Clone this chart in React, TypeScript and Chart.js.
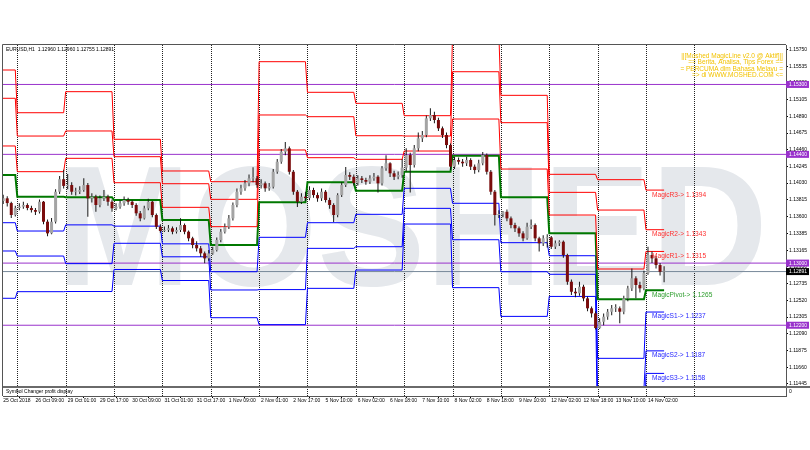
import React, { useEffect, useRef } from "react";
import { Chart, registerables } from "chart.js";

Chart.register(...registerables);

const FONT = "'Liberation Sans', Arial, sans-serif";

// ---------- time axis ----------
const timeLabels = ["25 Oct 2018", "26 Oct 09:00", "29 Oct 01:00", "29 Oct 17:00", "30 Oct 09:00", "31 Oct 01:00", "31 Oct 17:00", "1 Nov 09:00", "2 Nov 01:00", "2 Nov 17:00", "5 Nov 10:00", "6 Nov 02:00", "6 Nov 18:00", "7 Nov 10:00", "8 Nov 02:00", "8 Nov 18:00", "9 Nov 10:00", "12 Nov 02:00", "12 Nov 18:00", "13 Nov 10:00", "14 Nov 02:00"];
const timeLabelHours = [-7, 9, 25, 41, 57, 73, 89, 105, 121, 137, 153, 169, 185, 201, 217, 233, 249, 265, 281, 297, 313];
const daySeparatorHours = [0, 24, 48, 72, 96, 120, 144, 168, 192, 216, 240, 264, 288, 312, 336];

// ---------- price axis ----------
const priceTicks = [1.1575, 1.15535, 1.1532, 1.15105, 1.1489, 1.14675, 1.1446, 1.14245, 1.1403, 1.13815, 1.136, 1.13385, 1.13165, 1.1295, 1.12735, 1.1252, 1.12305, 1.1209, 1.11875, 1.1166, 1.11445];
const levelLines = [1.153, 1.144, 1.13, 1.122];
const bidPrice = 1.12891;

const symbolTitle = "EURUSD,H1";
const currentBarOHLC = [1.1296, 1.1296, 1.12755, 1.12891];
const infoLines = ["||[Moshed MagicLine v2.0 @ Aktif]||", "== Berita, Analisa, Tips Forex ==", "= PERCUMA dlm Bahasa Melayu =", "=> di WWW.MOSHED.COM <="];
const watermarkText = "MOSHED";
const subWindowTitle = "Symbol Changer profit display";

// ---------- candles (2-hour bars, first bar at hour -7) ----------
const candleStartHour = -7;
const candleStepHours = 2;
const opens = [1.13800,1.13834,1.13773,1.13619,1.13709,1.13726,1.13748,1.13709,1.13683,1.13661,
 1.13790,1.13533,1.13383,1.13533,1.13919,1.14080,1.13994,1.14005,1.13919,1.13919,
 1.13941,1.14005,1.13834,1.13855,1.13748,1.13834,1.13855,1.13790,1.13705,1.13726,
 1.13770,1.13812,1.13790,1.13748,1.13641,1.13576,1.13705,1.13790,1.13619,1.13468,
 1.13414,1.13426,1.13448,1.13404,1.13426,1.13490,1.13404,1.13319,1.13233,1.13190,
 1.13126,1.13061,1.13125,1.13168,1.13297,1.13404,1.13468,1.13576,1.13748,1.13919,
 1.13963,1.14027,1.14091,1.14091,1.14005,1.14027,1.13963,1.13983,1.14176,1.14305,
 1.14434,1.14478,1.14176,1.13919,1.13790,1.13855,1.13837,1.13941,1.13876,1.13834,
 1.13919,1.13812,1.13748,1.13619,1.13876,1.14005,1.14134,1.14112,1.14032,1.14091,
 1.14070,1.14048,1.14091,1.14112,1.14027,1.14220,1.14285,1.14156,1.14112,1.14134,
 1.14229,1.14391,1.14263,1.14478,1.14606,1.14649,1.14864,1.14906,1.14842,1.14735,
 1.14649,1.14520,1.14242,1.14327,1.14305,1.14285,1.14327,1.14241,1.14198,1.14285,
 1.14391,1.14176,1.13919,1.13619,1.13627,1.13661,1.13576,1.13490,1.13448,1.13383,
 1.13319,1.13468,1.13490,1.13319,1.13255,1.13319,1.13331,1.13211,1.13255,1.13275,
 1.13104,1.12760,1.12631,1.12611,1.12696,1.12546,1.12418,1.12353,1.12164,1.12245,
 1.12310,1.12374,1.12418,1.12418,1.12374,1.12546,1.12675,1.12804,1.12718,1.12675,
 1.12870,1.13104,1.13061,1.12975,1.12889];
const highs = [1.13880,1.13860,1.13790,1.13740,1.13770,1.13790,1.13770,1.13740,1.13710,1.13820,
 1.13800,1.13560,1.13580,1.13950,1.14120,1.14202,1.14148,1.14040,1.13970,1.13990,
 1.14091,1.14030,1.13900,1.13880,1.13870,1.13941,1.13880,1.13820,1.13770,1.13810,
 1.13859,1.13840,1.13810,1.13770,1.13670,1.13740,1.13830,1.13800,1.13640,1.13500,
 1.13470,1.13490,1.13470,1.13460,1.13576,1.13510,1.13420,1.13340,1.13280,1.13220,
 1.13150,1.13170,1.13210,1.13330,1.13440,1.13510,1.13620,1.13780,1.13960,1.14010,
 1.14070,1.14140,1.14233,1.14120,1.14080,1.14050,1.14030,1.14210,1.14340,1.14470,
 1.14560,1.14500,1.14200,1.13940,1.13900,1.13920,1.13990,1.13970,1.13910,1.13960,
 1.13940,1.13840,1.13770,1.13900,1.14040,1.14236,1.14170,1.14140,1.14130,1.14120,
 1.14100,1.14130,1.14160,1.14130,1.14250,1.14390,1.14300,1.14190,1.14180,1.14340,
 1.14480,1.14420,1.14520,1.14680,1.14700,1.14900,1.14995,1.14950,1.14870,1.14760,
 1.14680,1.14540,1.14370,1.14360,1.14340,1.14370,1.14350,1.14270,1.14330,1.14432,
 1.14410,1.14200,1.13940,1.13680,1.13672,1.13690,1.13600,1.13520,1.13470,1.13410,
 1.13520,1.13560,1.13510,1.13340,1.13360,1.13370,1.13350,1.13290,1.13293,1.13290,
 1.13120,1.12790,1.12680,1.12760,1.12720,1.12570,1.12440,1.12380,1.12290,1.12350,
 1.12410,1.12460,1.12470,1.12440,1.12580,1.12710,1.12930,1.12830,1.12760,1.12900,
 1.13211,1.13150,1.13090,1.13000,1.12960];
const lows = [1.13760,1.13730,1.13580,1.13600,1.13680,1.13700,1.13680,1.13650,1.13620,1.13640,
 1.13500,1.13345,1.13370,1.13510,1.13890,1.13960,1.13950,1.13880,1.13870,1.13890,
 1.13920,1.13597,1.13780,1.13661,1.13720,1.13800,1.13740,1.13660,1.13680,1.13700,
 1.13740,1.13750,1.13710,1.13610,1.13540,1.13560,1.13680,1.13590,1.13440,1.13391,
 1.13400,1.13400,1.13370,1.13380,1.13400,1.13370,1.13280,1.13190,1.13150,1.13080,
 1.12997,1.13030,1.13109,1.13150,1.13270,1.13380,1.13440,1.13550,1.13720,1.13880,
 1.13930,1.13990,1.14040,1.13970,1.13960,1.13920,1.13930,1.13960,1.14150,1.14280,
 1.14390,1.14140,1.13880,1.13723,1.13760,1.13800,1.13810,1.13840,1.13790,1.13800,
 1.13780,1.13700,1.13528,1.13590,1.13850,1.13980,1.14070,1.14000,1.14000,1.14030,
 1.14010,1.14020,1.14060,1.13910,1.14000,1.14190,1.14110,1.14070,1.14080,1.14100,
 1.14180,1.13910,1.14230,1.14440,1.14560,1.14620,1.14830,1.14800,1.14700,1.14610,
 1.14480,1.14200,1.14210,1.14270,1.14240,1.14250,1.14200,1.14150,1.14170,1.14260,
 1.14140,1.13880,1.13483,1.13580,1.13590,1.13540,1.13450,1.13400,1.13340,1.13280,
 1.13300,1.13440,1.13280,1.13148,1.13220,1.13200,1.13180,1.13180,1.13220,1.13070,
 1.12720,1.12590,1.12560,1.12580,1.12510,1.12380,1.12300,1.12144,1.12150,1.12200,
 1.12270,1.12330,1.12370,1.12226,1.12340,1.12510,1.12640,1.12546,1.12620,1.12650,
 1.12850,1.13000,1.12930,1.12840,1.12755];
const closes = [1.13834,1.13773,1.13619,1.13709,1.13726,1.13748,1.13709,1.13683,1.13661,1.13790,
 1.13533,1.13383,1.13533,1.13919,1.14080,1.13994,1.14005,1.13919,1.13919,1.13941,
 1.14005,1.13834,1.13855,1.13748,1.13834,1.13855,1.13790,1.13705,1.13726,1.13770,
 1.13812,1.13790,1.13748,1.13641,1.13576,1.13705,1.13790,1.13619,1.13468,1.13414,
 1.13426,1.13448,1.13404,1.13426,1.13490,1.13404,1.13319,1.13233,1.13190,1.13126,
 1.13061,1.13125,1.13168,1.13297,1.13404,1.13468,1.13576,1.13748,1.13919,1.13963,
 1.14027,1.14091,1.14091,1.14005,1.14027,1.13963,1.13983,1.14176,1.14305,1.14434,
 1.14478,1.14176,1.13919,1.13790,1.13855,1.13837,1.13941,1.13876,1.13834,1.13919,
 1.13812,1.13748,1.13619,1.13876,1.14005,1.14134,1.14112,1.14032,1.14091,1.14070,
 1.14048,1.14091,1.14112,1.14027,1.14220,1.14285,1.14156,1.14112,1.14134,1.14229,
 1.14391,1.14263,1.14478,1.14606,1.14649,1.14864,1.14906,1.14842,1.14735,1.14649,
 1.14520,1.14242,1.14327,1.14305,1.14285,1.14327,1.14241,1.14198,1.14285,1.14391,
 1.14176,1.13919,1.13619,1.13627,1.13661,1.13576,1.13490,1.13448,1.13383,1.13319,
 1.13468,1.13490,1.13319,1.13255,1.13319,1.13331,1.13211,1.13255,1.13275,1.13104,
 1.12760,1.12631,1.12611,1.12696,1.12546,1.12418,1.12353,1.12164,1.12245,1.12310,
 1.12374,1.12418,1.12418,1.12374,1.12546,1.12675,1.12804,1.12718,1.12675,1.12870,
 1.13104,1.13061,1.12975,1.12889,1.12891];

// ---------- Magic pivot levels per day (25 Oct .. 14 Nov) ----------
const pivotDayStartHours = [-24, 0, 24, 48, 72, 96, 120, 144, 168, 192, 216, 240, 264, 288, 312];
const lastBarHour = 321;
const magicR3 = [1.15486, 1.14936, 1.15207, 1.14594, 1.14186, 1.14048, 1.15593, 1.15199, 1.15057, 1.14898, 1.15941, 1.15160, 1.14143, 1.14074, 1.1394];
const magicR2 = [1.15122, 1.14636, 1.14701, 1.14370, 1.14022, 1.13821, 1.14907, 1.14885, 1.14640, 1.14636, 1.15464, 1.14808, 1.13911, 1.13683, 1.1343];
const magicR1 = [1.14508, 1.14177, 1.14349, 1.14035, 1.13718, 1.13469, 1.14456, 1.14357, 1.14336, 1.14443, 1.14855, 1.14211, 1.13619, 1.12924, 1.1315];
const magicPivot = [1.14134, 1.13855, 1.13847, 1.13812, 1.13555, 1.13233, 1.13783, 1.14040, 1.13932, 1.14177, 1.14383, 1.13847, 1.13383, 1.12534, 1.1265];
const magicS1 = [1.13520, 1.13413, 1.13492, 1.13476, 1.13248, 1.12889, 1.13332, 1.13520, 1.13628, 1.13963, 1.13770, 1.13263, 1.13095, 1.11774, 1.1237];
const magicS2 = [1.13156, 1.13091, 1.12993, 1.13255, 1.13081, 1.12654, 1.12659, 1.13190, 1.13211, 1.13705, 1.13301, 1.12889, 1.12856, 1.11384, 1.1187];
const magicS3 = [1.12547, 1.12632, 1.12634, 1.12918, 1.12776, 1.12297, 1.12208, 1.12675, 1.12911, 1.13503, 1.12684, 1.12314, 1.12571, 1.10624, 1.1158];
const labelHour = 315;

// ---------- view ----------
const X_MIN = -7.1;
const X_MAX = 381.5;
const Y_MIN = 1.11289;
const Y_MAX = 1.15808;
const SUB_H = 10;

const RED = "#ff0000";
const BLUE = "#0000ff";
const GREEN = "#007800";
const PURPLE = "#9932cc";

export default function App() {
  const ref = useRef<HTMLCanvasElement>(null);

  useEffect(() => {
    document.body.style.margin = "0";
    const canvas = ref.current;
    if (!canvas) return;

    const hourOf = (i: number) => candleStartHour + candleStepHours * i;
    const wickData = highs.map((h, i) => ({ x: hourOf(i), y: [lows[i], h] }));
    const bullData: any[] = [];
    const bearData: any[] = [];
    closes.forEach((c, i) => {
      const o = opens[i];
      (c >= o ? bullData : bearData).push({ x: hourOf(i), y: [Math.min(o, c), Math.max(o, c)] });
    });

    const pivotPoints = (levels: number[]) => {
      const pts: { x: number; y: number }[] = [];
      levels.forEach((v, j) => {
        const start = pivotDayStartHours[j];
        const end = j === levels.length - 1 ? lastBarHour : pivotDayStartHours[j + 1] - 1;
        pts.push({ x: start, y: v }, { x: end, y: v });
      });
      return pts;
    };

    const pivotSeries = [
      { name: "MagicR3", values: magicR3, color: RED, width: 1, text: "#ff3030" },
      { name: "MagicR2", values: magicR2, color: RED, width: 1, text: "#ff3030" },
      { name: "MagicR1", values: magicR1, color: RED, width: 1, text: "#ff3030" },
      { name: "MagicPivot", values: magicPivot, color: GREEN, width: 2, text: "#2e9e2e" },
      { name: "MagicS1", values: magicS1, color: BLUE, width: 1, text: "#2828ff" },
      { name: "MagicS2", values: magicS2, color: BLUE, width: 1, text: "#2828ff" },
      { name: "MagicS3", values: magicS3, color: BLUE, width: 1, text: "#2828ff" },
    ];

    const hLine = (v: number) => [{ x: X_MIN - 5, y: v }, { x: X_MAX + 5, y: v }];

    const datasets: any[] = [];
    levelLines.forEach((v) =>
      datasets.push({ type: "line", data: hLine(v), borderColor: PURPLE, borderWidth: 1, pointRadius: 0, order: 5 })
    );
    datasets.push({ type: "line", data: hLine(bidPrice), borderColor: "#778899", borderWidth: 1, pointRadius: 0, order: 5 });
    pivotSeries.forEach((s) =>
      datasets.push({
        type: "line",
        data: pivotPoints(s.values),
        borderColor: s.color,
        borderWidth: s.width,
        pointRadius: 0,
        tension: 0,
        order: 3,
        clip: { left: 0, top: 0, right: 0, bottom: -SUB_H },
      })
    );
    datasets.push({ type: "bar", data: wickData, backgroundColor: "#151515", barThickness: 1, grouped: false, borderWidth: 0, inflateAmount: 0, order: 1 });
    datasets.push({ type: "bar", data: bullData, backgroundColor: "#a4a4a4", barThickness: 3, grouped: false, borderWidth: 0, inflateAmount: 0, minBarLength: 1, order: 0 });
    datasets.push({ type: "bar", data: bearData, backgroundColor: "#7a0c0c", barThickness: 3, grouped: false, borderWidth: 0, inflateAmount: 0, minBarLength: 1, order: 0 });

    const backgroundPlugin = {
      id: "bg",
      beforeDraw(chart: any) {
        const { ctx, width, height } = chart;
        ctx.save();
        ctx.fillStyle = "#ffffff";
        ctx.fillRect(0, 0, width, height);
        ctx.restore();
      },
    };

    const underlayPlugin = {
      id: "underlay",
      beforeDatasetsDraw(chart: any) {
        const { ctx, chartArea } = chart;
        const xs = chart.scales.x;
        const mainBottom = chartArea.bottom - SUB_H;
        ctx.save();
        ctx.beginPath();
        ctx.rect(chartArea.left, chartArea.top, chartArea.right - chartArea.left, mainBottom - chartArea.top);
        ctx.clip();
        ctx.fillStyle = "#e5e8ec";
        ctx.font = `bold 170px ${FONT}`;
        ctx.textAlign = "center";
        ctx.textBaseline = "alphabetic";
        ctx.fillText(watermarkText, 412, 285, 712);
        ctx.restore();

        ctx.save();
        ctx.strokeStyle = "#222";
        ctx.lineWidth = 1;
        ctx.setLineDash([1, 1]);
        daySeparatorHours.forEach((h) => {
          const x = Math.round(xs.getPixelForValue(h)) + 0.5;
          ctx.beginPath();
          ctx.moveTo(x, chartArea.top);
          ctx.lineTo(x, chartArea.bottom);
          ctx.stroke();
        });
        ctx.restore();
      },
    };

    const overlayPlugin = {
      id: "overlay",
      afterDatasetsDraw(chart: any) {
        const { ctx, chartArea } = chart;
        const xs = chart.scales.x;
        const ys = chart.scales.y;
        const mainBottom = chartArea.bottom - SUB_H;
        ctx.save();
        // magic labels
        ctx.font = `6.6px ${FONT}`;
        ctx.textAlign = "left";
        ctx.textBaseline = "middle";
        pivotSeries.forEach((s) => {
          const v = s.values[s.values.length - 1];
          ctx.fillStyle = s.text;
          ctx.fillText(`${s.name}-> ${v.toFixed(4)}`, xs.getPixelForValue(labelHour), ys.getPixelForValue(v) + 4.6);
        });
        // info lines
        ctx.font = `6.5px ${FONT}`;
        ctx.textAlign = "right";
        ctx.fillStyle = "#f2c200";
        infoLines.forEach((t, i) => ctx.fillText(t, chartArea.right - 3, 56.5 + i * 6.2));
        // title
        ctx.font = `5px ${FONT}`;
        ctx.textAlign = "left";
        ctx.fillStyle = "#000";
        ctx.fillText(`${symbolTitle}  ${currentBarOHLC.map((v) => v.toFixed(5)).join(" ")}`, chartArea.left + 3, 49.5);
        // sub window
        ctx.strokeStyle = "#6a6a6a";
        ctx.lineWidth = 2;
        ctx.beginPath();
        ctx.moveTo(chartArea.left, mainBottom + 1);
        ctx.lineTo(chartArea.right + 24, mainBottom + 1);
        ctx.stroke();
        ctx.fillStyle = "#000";
        ctx.fillText(subWindowTitle, chartArea.left + 3, mainBottom + 6);
        // frame
        ctx.strokeStyle = "#555";
        ctx.lineWidth = 1;
        ctx.beginPath();
        ctx.moveTo(chartArea.left - 0.5, chartArea.top - 0.5);
        ctx.lineTo(chartArea.right, chartArea.top - 0.5);
        ctx.moveTo(chartArea.left - 0.5, chartArea.top - 0.5);
        ctx.lineTo(chartArea.left - 0.5, chartArea.bottom);
        ctx.stroke();
        ctx.restore();
      },
      afterDraw(chart: any) {
        const { ctx, chartArea } = chart;
        const ys = chart.scales.y;
        const mainBottom = chartArea.bottom - SUB_H;
        ctx.save();
        ctx.font = `5px ${FONT}`;
        ctx.textAlign = "left";
        ctx.textBaseline = "middle";
        const badge = (v: number, color: string) => {
          const y = ys.getPixelForValue(v);
          ctx.fillStyle = color;
          ctx.fillRect(chartArea.right, y - 3.5, 23, 7);
          ctx.fillStyle = "#fff";
          ctx.fillText(v.toFixed(5), chartArea.right + 3, y + 0.3);
        };
        levelLines.forEach((v) => badge(v, PURPLE));
        badge(bidPrice, "#000");
        ctx.fillStyle = "#000";
        ctx.fillText("0", chartArea.right + 3, mainBottom + 6);
        ctx.restore();
      },
    };

    const chart = new Chart(canvas, {
      type: "line",
      data: { datasets },
      options: {
        animation: false,
        responsive: false,
        maintainAspectRatio: false,
        devicePixelRatio: 1,
        events: [],
        layout: { padding: { left: 3, top: 45, right: 0, bottom: 0 } },
        plugins: { legend: { display: false }, tooltip: { enabled: false } },
        scales: {
          x: {
            type: "linear",
            min: X_MIN,
            max: X_MAX,
            offset: false,
            position: "bottom",
            afterFit: (s: any) => { s.height = 54; },
            afterBuildTicks: (s: any) => { s.ticks = timeLabelHours.map((v) => ({ value: v })); },
            ticks: {
              autoSkip: false,
              maxRotation: 0,
              minRotation: 0,
              align: "start",
              padding: 0,
              color: "#000",
              font: { size: 5, family: FONT },
              callback: (_v: any, i: number) => timeLabels[i],
            },
            grid: { drawOnChartArea: false, drawTicks: true, tickLength: 2, color: "#000" },
            border: { display: true, color: "#555" },
          },
          y: {
            type: "linear",
            min: Y_MIN,
            max: Y_MAX,
            position: "right",
            afterFit: (s: any) => { s.width = 24; },
            afterBuildTicks: (s: any) => { s.ticks = priceTicks.map((v) => ({ value: v })); },
            ticks: {
              autoSkip: false,
              padding: 1,
              color: "#000",
              font: { size: 5, family: FONT },
              callback: (v: any) => Number(v).toFixed(5),
            },
            grid: { drawOnChartArea: false, drawTicks: true, tickLength: 2, color: "#000" },
            border: { display: true, color: "#555" },
          },
        },
      } as any,
      plugins: [backgroundPlugin, underlayPlugin, overlayPlugin],
    });

    return () => chart.destroy();
  }, []);

  return (
    <div style={{ position: "fixed", left: 0, top: 0, width: 810, height: 450, background: "#fff" }}>
      <canvas ref={ref} width={810} height={450} style={{ display: "block", width: 810, height: 450 }} />
    </div>
  );
}
